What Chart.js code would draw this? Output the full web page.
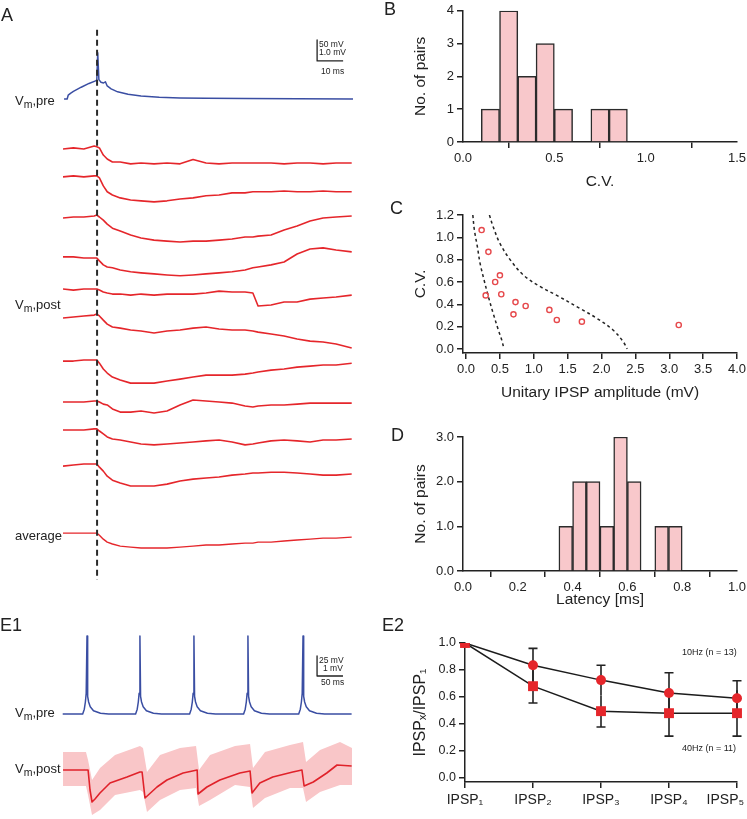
<!DOCTYPE html>
<html>
<head>
<meta charset="utf-8">
<title>Unitary IPSPs</title>
<script src="https://cdn.jsdelivr.net/npm/chart.js@4.4.0/dist/chart.umd.min.js"></script>
<style>
  html, body { margin: 0; padding: 0; background: #fff; }
  body { position: relative; width: 747px; height: 819px; overflow: hidden;
         font-family: "Liberation Sans", Arial, Helvetica, sans-serif; color: #222; }
  canvas { position: absolute; }
  .lbl { position: absolute; white-space: nowrap; line-height: 1; }
  .panel { font-size: 18px; }
  .trace { font-size: 13px; }
  .trace sub { font-size: 10.5px; vertical-align: -3px; line-height: 0; }
  .bar { font-size: 8.5px; }
  .note { font-size: 9px; }
</style>
</head>
<body>
<canvas id="chartA" width="380" height="600" style="left:0;top:0"></canvas>
<canvas id="chartB" width="367" height="195" style="left:380px;top:0"></canvas>
<canvas id="chartC" width="367" height="211" style="left:380px;top:195px"></canvas>
<canvas id="chartD" width="367" height="198" style="left:380px;top:415px"></canvas>
<canvas id="chartE1" width="380" height="209" style="left:0;top:610px"></canvas>
<canvas id="chartE2" width="367" height="194" style="left:380px;top:625px"></canvas>

<div class="lbl panel" style="left:1px;top:6px">A</div>
<div class="lbl panel" style="left:384px;top:0px">B</div>
<div class="lbl panel" style="left:390px;top:199px">C</div>
<div class="lbl panel" style="left:391px;top:426px">D</div>
<div class="lbl panel" style="left:0px;top:616px">E1</div>
<div class="lbl panel" style="left:382px;top:616px">E2</div>

<div class="lbl trace" style="left:15px;top:94px">V<sub>m</sub>,pre</div>
<div class="lbl trace" style="left:15px;top:298px">V<sub>m</sub>,post</div>
<div class="lbl trace" style="left:15px;top:529px">average</div>
<div class="lbl bar" style="left:319px;top:40px">50 mV</div>
<div class="lbl bar" style="left:319px;top:48px">1.0 mV</div>
<div class="lbl bar" style="left:321px;top:67px">10 ms</div>

<div class="lbl trace" style="left:15px;top:706px">V<sub>m</sub>,pre</div>
<div class="lbl trace" style="left:15px;top:762px">V<sub>m</sub>,post</div>
<div class="lbl bar" style="left:319px;top:656px">25 mV</div>
<div class="lbl bar" style="left:323px;top:664px">1 mV</div>
<div class="lbl bar" style="left:321px;top:678px">50 ms</div>

<div class="lbl note" style="left:682px;top:648px">10Hz (n = 13)</div>
<div class="lbl note" style="left:682px;top:744px">40Hz (n = 11)</div>

<script>
// ---- panel A: presynaptic spike and postsynaptic sweeps ----
var preTime = [0.4, 1.6, 2.0, 3, 4, 7, 10, 12.5, 13.0, 13.35, 13.8, 14.6, 15.6, 16.3, 17.0, 18.5, 21, 25, 30, 37, 45, 55, 70, 90, 111.5];
var preVm = [0, 0, 9, 14, 18, 28, 37, 43, 45, 110, 46, 40, 38, 41, 31, 24, 17, 11, 7, 4, 2.5, 1.5, 1, 0.5, 0];
var spikeTime = 13.1;

// ms, shared by all the post sweeps
var sweepTime = [0, 4, 8, 12, 13, 14, 15.5, 17, 19, 22, 26, 30, 35, 40, 45, 50, 55, 60, 65, 70, 73, 75, 80, 85, 90, 95, 100, 105, 111];
// mV relative to each sweep's own baseline
var sweep1 = [0, 0.05, 0, 0.14, 0.1, 0.05, -0.29, -0.48, -0.62, -0.62, -0.71, -0.67, -0.71, -0.67, -0.71, -0.5, -0.67, -0.71, -0.67, -0.67, -0.67, -0.67, -0.67, -0.71, -0.67, -0.67, -0.71, -0.67, -0.67];
var sweep2 = [0, 0.05, 0, 0.05, 0.05, -0.05, -0.43, -0.71, -0.86, -1.0, -1.1, -1.14, -1.19, -1.14, -1.05, -1.0, -0.9, -0.86, -0.76, -0.76, -0.71, -0.71, -0.71, -0.67, -0.71, -0.71, -0.67, -0.71, -0.71];
var sweep3 = [0, 0.05, 0.05, 0.1, 0.14, 0.05, -0.1, -0.29, -0.48, -0.62, -0.81, -0.95, -1.05, -1.1, -1.14, -1.1, -1.1, -1.05, -1.0, -0.9, -0.9, -0.86, -0.81, -0.57, -0.38, -0.14, 0, 0.05, 0.1];
var sweep4 = [0, 0, -0.05, -0.05, -0.05, -0.19, -0.38, -0.48, -0.52, -0.62, -0.71, -0.76, -0.81, -0.86, -0.9, -0.86, -0.81, -0.76, -0.71, -0.62, -0.52, -0.48, -0.38, -0.24, 0.14, 0.38, 0.43, 0.33, 0.24];
var sweep5 = [0, -0.05, 0, 0, 0, -0.05, -0.14, -0.19, -0.24, -0.24, -0.29, -0.24, -0.29, -0.24, -0.24, -0.24, -0.19, -0.1, -0.14, -0.14, -0.19, -0.81, -0.76, -0.62, -0.62, -0.48, -0.43, -0.38, -0.29];
var sweep6 = [0, 0.05, 0.1, 0.14, 0.19, 0.1, -0.1, -0.29, -0.43, -0.48, -0.57, -0.62, -0.71, -0.62, -0.57, -0.48, -0.43, -0.52, -0.57, -0.57, -0.62, -0.67, -0.76, -0.86, -1.0, -1.1, -1.14, -1.24, -1.43];
var sweep7 = [0, 0, 0.05, 0.05, 0.05, -0.1, -0.38, -0.57, -0.76, -0.9, -1.05, -1.05, -1.05, -0.95, -0.86, -0.76, -0.67, -0.67, -0.67, -0.62, -0.57, -0.52, -0.43, -0.38, -0.29, -0.24, -0.19, -0.19, -0.1];
var sweep8 = [0, 0, 0, 0.05, 0.05, 0, -0.1, -0.14, -0.33, -0.48, -0.48, -0.43, -0.52, -0.43, -0.14, 0.1, 0.05, 0, -0.05, -0.19, -0.24, -0.19, -0.14, -0.14, -0.1, -0.05, -0.05, -0.05, -0.05];
var sweep9 = [0, 0, 0, 0.05, 0.05, -0.05, -0.19, -0.33, -0.43, -0.48, -0.57, -0.67, -0.71, -0.67, -0.62, -0.57, -0.52, -0.48, -0.57, -0.71, -0.67, -0.62, -0.52, -0.48, -0.52, -0.57, -0.48, -0.48, -0.43];
var sweep10 = [0, 0.05, 0.1, 0.1, 0.1, -0.05, -0.24, -0.48, -0.67, -0.81, -0.95, -0.95, -0.95, -0.86, -0.71, -0.62, -0.57, -0.52, -0.43, -0.38, -0.33, -0.33, -0.29, -0.29, -0.33, -0.38, -0.43, -0.43, -0.38];
var sweepAverage = [0, 0, 0, 0, 0, -0.1, -0.29, -0.43, -0.52, -0.62, -0.67, -0.71, -0.71, -0.71, -0.67, -0.62, -0.57, -0.57, -0.52, -0.48, -0.48, -0.43, -0.43, -0.38, -0.33, -0.29, -0.24, -0.24, -0.19];
var sweepOffset = [21.0, 19.67, 17.71, 15.86, 14.33, 12.95, 10.9, 8.95, 7.62, 5.9];
var averageOffset = 2.71;
var preOffset = 23.38;
var preMvPerUnit = 50;

// ---- panel B: C.V. histogram ----
var cvBinStart = [0.1, 0.2, 0.3, 0.4, 0.5, 0.7, 0.8];
var cvCounts = [1, 4, 2, 3, 1, 1, 1];
var cvBinWidth = 0.1;

// ---- panel C: C.V. vs amplitude ----
var ampMean = [0.23, 0.33, 0.50, 0.43, 0.29, 0.52, 0.73, 0.88, 0.70, 1.23, 1.34, 1.71, 3.14];
var ampCV = [1.065, 0.87, 0.66, 0.60, 0.48, 0.49, 0.42, 0.385, 0.31, 0.35, 0.26, 0.245, 0.215];
var lowerAmp = [0.10, 0.123, 0.167, 0.207, 0.266, 0.33, 0.40, 0.477, 0.527, 0.56];
var lowerCV = [1.2, 1.065, 0.916, 0.767, 0.618, 0.468, 0.32, 0.17, 0.08, 0.0];
var upperAmp = [0.345, 0.40, 0.50, 0.65, 0.85, 1.09, 1.34, 1.68, 1.93, 2.17, 2.32, 2.38];
var upperCV = [1.2, 1.095, 0.946, 0.80, 0.66, 0.56, 0.48, 0.364, 0.275, 0.17, 0.065, 0.0];

// ---- panel D: latency histogram ----
var latBinStart = [0.35, 0.40, 0.45, 0.50, 0.55, 0.60, 0.70, 0.75];
var latCounts = [1, 2, 2, 1, 3, 2, 1, 1];
var latBinWidth = 0.05;

// ---- panel E1: 10 Hz train ----
var trainPre = [[5, 0], [42, 0], [45, 6], [47, 15], [48.5, 26], [50, 97.5], [51.2, 22], [53, 15], [56, 9], [62, 4], [75, 1], [90, 0],
  [140, 0], [143, 6], [145, 15], [146.5, 26], [148, 97.5], [149.2, 22], [151, 15], [154, 9], [160, 4], [173, 1], [188, 0],
  [240, 0], [243, 6], [245, 15], [246.5, 26], [248, 97.5], [249.2, 22], [251, 15], [254, 9], [260, 4], [273, 1], [288, 0],
  [340, 0], [343, 6], [345, 15], [346.5, 26], [348, 97.5], [349.2, 22], [351, 15], [354, 9], [360, 4], [373, 1], [388, 0],
  [442, 0], [445, 6], [447, 15], [448.5, 26], [450, 97.5], [451.2, 22], [453, 15], [456, 9], [462, 4], [475, 1], [490, 0], [540, 0]];
var trainPost = [[5.6, 0], [46, 0], [52, 0], [55.6, -1.0], [59.3, -1.6], [64.8, -1.45], [74, -1.15], [92.6, -0.65], [124, -0.35], [148, -0.1],
  [152, -0.1], [157.4, -1.4], [179.6, -0.85], [198, -0.5], [228, -0.15], [254, 0], [255.6, -1.2], [272, -0.85], [296, -0.5], [333, -0.15],
  [352, -0.05], [355.6, -1.15], [370, -0.65], [394, -0.35], [431, -0.1], [448, 0], [452, -0.8], [469, -0.6], [494, -0.15], [513, 0.25], [540, 0.2]];
var bandTime = [5.6, 48.1, 51.9, 59.3, 74.1, 101.9, 148.1, 153.7, 161.1, 185.2, 222.2, 251.9, 257.4, 277.8, 324.1, 351.9, 357.4, 379.6, 425.9, 450, 455.6, 481.5, 518.5, 540.7];
var bandHigh = [0.9, 0.9, 0.5, -0.5, 0.1, 0.75, 1.2, 1.1, -0.1, 0.75, 1.1, 1.2, 0, 0.75, 1.2, 1.3, 0.1, 0.9, 1.25, 1.4, 0.4, 1.0, 1.4, 1.1];
var bandLow = [-0.8, -0.8, -1.25, -2.25, -2.0, -1.25, -1.0, -1.1, -2.1, -1.5, -1.0, -0.9, -1.8, -1.5, -0.75, -0.85, -1.9, -1.4, -0.9, -0.9, -1.6, -1.1, -0.75, -0.75];
var trainPreOffset = 5.25;
var trainPostOffset = 2.45;
var trainPreMvPerUnit = 25;

// ---- panel E2: short-term depression ----
var pulseLabels = ['IPSP\u2081', 'IPSP\u2082', 'IPSP\u2083', 'IPSP\u2084', 'IPSP\u2085'];
var ratio10Hz = [1.0, 0.835, 0.725, 0.63, 0.59];
var err10Hz = [0, 0.125, 0.11, 0.15, 0.13];
var ratio40Hz = [1.0, 0.68, 0.495, 0.48, 0.48];
var err40Hz = [0, 0.125, 0.117, 0.17, 0.17];

var RED = '#e5262b';
var BLUE = '#3a4ea3';
var INK = '#222';

Chart.defaults.font.family = '"Liberation Sans", Arial, Helvetica, sans-serif';
Chart.defaults.color = INK;
Chart.defaults.animation = false;
Chart.defaults.responsive = false;
Chart.defaults.plugins.legend.display = false;
Chart.defaults.plugins.tooltip.enabled = false;

function widthFit(w) { return function (scale) { scale.width = w; }; }
function heightFit(h) { return function (scale) { scale.height = h; scale.paddingRight = 0; }; }

// axis in the Igor style: plain line, outward ticks, no grid
function axis(min, max, step, digits, title, fit, tickSize) {
    return {
        type: 'linear',
        min: min,
        max: max,
        offset: false,
        grid: { display: true, drawOnChartArea: false, drawTicks: true, tickLength: 6, color: INK, lineWidth: 1.5 },
        border: { display: true, color: INK, width: 1.5 },
        ticks: {
            padding: 3,
            font: { size: tickSize || 13 },
            color: INK,
            callback: function (v) { return v.toFixed(digits); }
        },
        title: { display: !!title, text: title, font: { size: 15.5 }, color: INK, padding: 4 },
        // ticks start at zero even when the axis line is pushed a little below it
        afterBuildTicks: function (scale) {
            var list = [];
            for (var k = 0; k * step <= max + 1e-9; k++) {
                list.push({ value: Math.round(k * step * 1000) / 1000 });
            }
            scale.ticks = list;
        },
        afterFit: fit
    };
}

function hidden(min, max) {
    return { type: 'linear', display: false, min: min, max: max };
}

function trace(points, color, width, order) {
    return { data: points, borderColor: color, borderWidth: width, pointRadius: 0, fill: false,
             borderJoinStyle: 'round', order: order || 1 };
}

// ---------- A ----------
var aSets = [];
aSets.push(Object.assign(trace([{ x: spikeTime, y: 26.67 }, { x: spikeTime, y: 0.48 }], '#2a2a2a', 2, 0), { borderDash: [6, 4] }));
aSets.push(trace(preTime.map(function (t, i) { return { x: t, y: preOffset + preVm[i] / preMvPerUnit }; }), BLUE, 1.5));
[sweep1, sweep2, sweep3, sweep4, sweep5, sweep6, sweep7, sweep8, sweep9, sweep10].forEach(function (s, k) {
    aSets.push(trace(sweepTime.map(function (t, i) { return { x: t, y: sweepOffset[k] + s[i] }; }), RED, 1.6));
});
aSets.push(trace(sweepTime.map(function (t, i) { return { x: t, y: averageOffset + sweepAverage[i] }; }), RED, 1.4));
// scale bar: 10 ms, 1 mV (50 mV for the pre trace)
aSets.push(trace([{ x: 97.7, y: 26.19 }, { x: 97.7, y: 25.19 }, { x: 107.7, y: 25.19 }], INK, 1.3));

new Chart(document.getElementById('chartA'), {
    type: 'line',
    data: { datasets: aSets },
    options: {
        devicePixelRatio: 1,
        layout: { padding: { left: 63, right: 27, top: 20, bottom: 10 } },
        scales: { x: hidden(0, 111.5), y: hidden(0, 27.14) }
    }
});

// ---------- B ----------
new Chart(document.getElementById('chartB'), {
    type: 'bar',
    data: {
        datasets: [{
            data: cvBinStart.map(function (b, i) { return { x: b + cvBinWidth / 2, y: cvCounts[i] }; }),
            backgroundColor: '#f8c8cb',
            borderColor: '#2b2b2b',
            borderWidth: 1.5,
            barPercentage: 1,
            categoryPercentage: 1
        }]
    },
    options: {
        devicePixelRatio: 1,
        layout: { padding: { left: 27, right: 10, top: 10, bottom: 0 } },
        scales: {
            x: axis(0, 1.5, 0.5, 1, 'C.V.', heightFit(53)),
            y: axis(0, 4, 1, 0, 'No. of pairs', widthFit(56))
        }
    }
});

// ---------- C ----------
new Chart(document.getElementById('chartC'), {
    type: 'scatter',
    data: {
        datasets: [{
            data: ampMean.map(function (a, i) { return { x: a, y: ampCV[i] }; }),
            pointStyle: 'circle',
            pointRadius: 2.6,
            pointBorderWidth: 1.4,
            pointBorderColor: '#e6484b',
            pointBackgroundColor: 'rgba(255,255,255,0)',
            order: 0
        }, {
            data: lowerAmp.map(function (a, i) { return { x: a, y: lowerCV[i] }; }),
            showLine: true, borderColor: INK, borderWidth: 1.5, borderDash: [3, 3], pointRadius: 0, tension: 0.35
        }, {
            data: upperAmp.map(function (a, i) { return { x: a, y: upperCV[i] }; }),
            showLine: true, borderColor: INK, borderWidth: 1.5, borderDash: [3, 3], pointRadius: 0, tension: 0.35
        }]
    },
    options: {
        devicePixelRatio: 1,
        layout: { padding: { left: 27, right: 10, top: 20, bottom: 0 } },
        scales: {
            x: axis(-0.045, 4, 0.5, 1, 'Unitary IPSP amplitude (mV)', heightFit(53)),
            y: axis(-0.036, 1.2, 0.2, 1, 'C.V.', widthFit(56))
        }
    }
});

// ---------- D ----------
new Chart(document.getElementById('chartD'), {
    type: 'bar',
    data: {
        datasets: [{
            data: latBinStart.map(function (b, i) { return { x: b + latBinWidth / 2, y: latCounts[i] }; }),
            backgroundColor: '#f8c8cb',
            borderColor: '#2b2b2b',
            borderWidth: 1.5,
            barPercentage: 1,
            categoryPercentage: 1
        }]
    },
    options: {
        devicePixelRatio: 1,
        layout: { padding: { left: 27, right: 10, top: 22, bottom: 0 } },
        scales: {
            x: axis(0, 1.0, 0.2, 1, 'Latency [ms]', heightFit(42)),
            y: axis(0, 3, 1, 1, 'No. of pairs', widthFit(56))
        }
    }
});

// ---------- E1 ----------
new Chart(document.getElementById('chartE1'), {
    type: 'line',
    data: {
        datasets: [
            {
                data: bandTime.map(function (t, i) { return { x: t, y: trainPostOffset + bandHigh[i] }; }),
                borderWidth: 0, pointRadius: 0, fill: '+1', backgroundColor: '#f9c6c8', order: 2
            },
            {
                data: bandTime.map(function (t, i) { return { x: t, y: trainPostOffset + bandLow[i] }; }),
                borderWidth: 0, pointRadius: 0, fill: false, order: 2
            },
            trace(trainPost.map(function (p) { return { x: p[0], y: trainPostOffset + p[1] }; }), '#e0222a', 1.6),
            trace(trainPre.map(function (p) { return { x: p[0], y: trainPreOffset + p[1] / trainPreMvPerUnit }; }), BLUE, 1.5),
            // scale bar: 50 ms, 1 mV (25 mV pre)
            trace([{ x: 476, y: 8.15 }, { x: 476, y: 7.15 }, { x: 524, y: 7.15 }], INK, 1.3)
        ]
    },
    options: {
        devicePixelRatio: 1,
        layout: { padding: { left: 60, right: 28, top: 15, bottom: 0 } },
        scales: { x: hidden(0, 540.7), y: hidden(0, 9.7) }
    }
});

// ---------- E2 ----------
var errorBars = {
    id: 'errorBars',
    beforeDatasetsDraw: function (chart) {
        var ctx = chart.ctx;
        var y = chart.scales.y;
        chart.data.datasets.forEach(function (ds, di) {
            var meta = chart.getDatasetMeta(di);
            ds.errors.forEach(function (e, i) {
                if (!e) return;
                var px = meta.data[i].x;
                var hi = y.getPixelForValue(ds.data[i] + e);
                var lo = y.getPixelForValue(ds.data[i] - e);
                var cap = ds.capAbove ? hi : lo;
                ctx.save();
                ctx.strokeStyle = INK;
                ctx.lineWidth = 1.6;
                ctx.beginPath();
                ctx.moveTo(px, hi);
                ctx.lineTo(px, lo);
                ctx.moveTo(px - 4.5, cap);
                ctx.lineTo(px + 4.5, cap);
                ctx.stroke();
                ctx.restore();
            });
        });
    }
};

var e2y = axis(-0.03, 1.0, 0.2, 1, 'IPSP\u2093/IPSP\u2081', widthFit(58), 12.5);
e2y.title.font = { size: 16 };

new Chart(document.getElementById('chartE2'), {
    type: 'line',
    data: {
        labels: pulseLabels,
        datasets: [{
            data: ratio10Hz,
            errors: err10Hz,
            capAbove: true,
            borderColor: '#1c1c1c',
            borderWidth: 1.5,
            pointStyle: 'circle',
            pointRadius: 5,
            pointBorderWidth: 0,
            pointBackgroundColor: RED
        }, {
            data: ratio40Hz,
            errors: err40Hz,
            capAbove: false,
            borderColor: '#1c1c1c',
            borderWidth: 1.5,
            pointStyle: 'rect',
            pointRadius: 7,
            pointBorderWidth: 0,
            pointBackgroundColor: RED
        }]
    },
    options: {
        devicePixelRatio: 1,
        layout: { padding: { left: 27, right: 10, top: 18, bottom: 0 } },
        scales: {
            x: {
                type: 'category',
                offset: false,
                grid: { display: true, drawOnChartArea: false, drawTicks: true, tickLength: 6, color: INK, lineWidth: 1.5, offset: false },
                border: { display: true, color: INK, width: 1.5 },
                ticks: {
                    padding: 4,
                    autoSkip: false,
                    maxRotation: 0,
                    font: { size: 14 },
                    color: INK,
                    callback: function (v, i) {
                        // last label sits left of its tick, as in the figure
                        return pulseLabels[i] + (i === pulseLabels.length - 1 ? '      ' : '');
                    }
                },
                afterFit: heightFit(37)
            },
            y: e2y
        }
    },
    plugins: [errorBars]
});
</script>
</body>
</html>
